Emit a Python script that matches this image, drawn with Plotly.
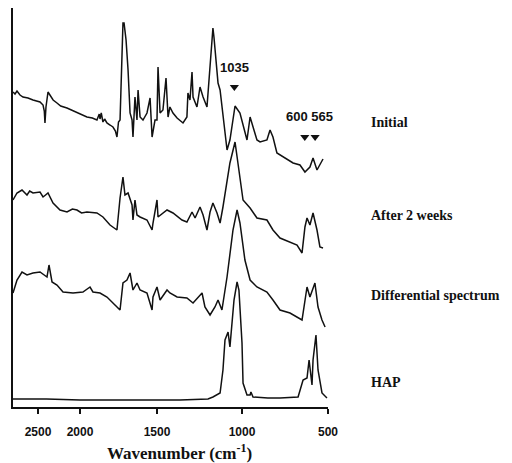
import numpy as np
import plotly.graph_objects as go

# ---------------- data (wavenumber in cm-1, absorbance in arbitrary units, stacked) -------------
tick_wn = [2500, 2000, 1500, 1000, 500]
tick_labels = ["2500", "2000", "1500", "1000", "500"]

initial_wn = [2800, 2776, 2752, 2716, 2680, 2620, 2560, 2520, 2476, 2440,
              2425, 2417, 2405, 2381, 2357, 2320, 2274, 2230, 2155, 2100,
              2036, 2000, 1975, 1955, 1920, 1890, 1875, 1870, 1862, 1851,
              1840, 1825, 1805, 1786, 1770, 1760, 1750, 1740, 1721, 1714,
              1701, 1688, 1675, 1662, 1656, 1643, 1630, 1623, 1610, 1591,
              1565, 1545, 1532, 1526, 1513, 1500, 1494, 1482, 1465, 1447,
              1435, 1424, 1406, 1382, 1365, 1347, 1324, 1318, 1306, 1294,
              1288, 1265, 1247, 1229, 1206, 1200, 1188, 1176, 1171, 1165,
              1147, 1141, 1129, 1112, 1088, 1071, 1041, 1012, 971, 953,
              936, 913, 895, 855, 837, 820, 797, 762, 730, 703,
              663, 634, 605, 587, 564, 535, 529]
initial_ab = [315, 313, 316, 312, 310, 309, 307, 306, 305, 302,
              296, 284, 300, 315, 312, 307, 304, 301, 299, 297,
              295, 293, 292, 290, 289, 287, 293, 288, 294, 285,
              288, 284, 282, 280, 276, 270, 285, 287, 384, 384,
              367, 337, 294, 287, 270, 310, 287, 317, 290, 287,
              294, 309, 270, 277, 287, 287, 340, 294, 297, 329,
              290, 300, 294, 289, 287, 284, 290, 314, 307, 335,
              310, 300, 320, 310, 300, 314, 337, 367, 379, 370,
              337, 324, 317, 294, 257, 267, 301, 294, 267, 290,
              280, 267, 265, 267, 277, 270, 254, 250, 247, 244,
              242, 235, 240, 249, 237, 245, 248]

weeks2_wn = [2800, 2752, 2692, 2632, 2600, 2560, 2476, 2440, 2410, 2381,
             2321, 2238, 2155, 2090, 2036, 1990, 1955, 1890, 1851, 1805,
             1760, 1740, 1721, 1708, 1688, 1662, 1656, 1643, 1630, 1610,
             1565, 1532, 1526, 1500, 1494, 1465, 1441, 1406, 1353, 1324,
             1294, 1276, 1247, 1229, 1206, 1188, 1171, 1147, 1129, 1112,
             1071, 1041, 1024, 994, 953, 913, 855, 820, 779, 721,
             680, 651, 634, 622, 605, 587, 564, 547, 529]
weeks2_ab = [207, 214, 217, 212, 216, 214, 215, 210, 212, 214,
             204, 197, 195, 198, 197, 194, 195, 194, 190, 182,
             177, 209, 230, 212, 214, 202, 187, 207, 192, 190,
             187, 177, 184, 207, 190, 194, 197, 194, 187, 185,
             195, 189, 200, 192, 177, 195, 204, 194, 184, 200,
             244, 265, 244, 207, 199, 189, 187, 177, 169, 165,
             162, 154, 180, 189, 182, 194, 177, 160, 159]

diff_wn = [2800, 2752, 2692, 2632, 2560, 2476, 2393, 2369, 2333, 2274,
           2202, 2083, 1981, 1935, 1916, 1870, 1825, 1792, 1760, 1740,
           1721, 1695, 1675, 1656, 1630, 1610, 1565, 1532, 1526, 1500,
           1482, 1441, 1424, 1382, 1324, 1288, 1235, 1218, 1188, 1159,
           1141, 1118, 1088, 1053, 1029, 1012, 983, 953, 913, 855,
           820, 779, 721, 680, 651, 622, 605, 576, 558, 535,
           517]
diff_ab = [114, 127, 135, 132, 134, 135, 130, 142, 125, 122,
           115, 114, 115, 120, 115, 114, 110, 105, 100, 97,
           124, 127, 134, 117, 124, 117, 114, 97, 110, 120,
           107, 117, 114, 110, 109, 104, 114, 100, 92, 100,
           107, 97, 130, 177, 197, 184, 147, 127, 120, 115,
           107, 97, 94, 90, 87, 120, 110, 124, 100, 87,
           80]

hap_wn = [2800, 2400, 2000, 1870, 1600, 1365, 1200, 1171, 1129, 1112,
          1100, 1082, 1071, 1065, 1047, 1029, 1018, 1000, 994, 971,
          953, 948, 936, 850, 779, 674, 645, 622, 610, 593,
          587, 570, 558, 535, 506]
hap_ab = [8, 8, 7, 7, 7, 7, 8, 10, 14, 37,
          67, 75, 60, 72, 107, 125, 117, 64, 24, 12,
          12, 15, 10, 9, 9, 10, 27, 29, 47, 22,
          47, 72, 37, 14, 9]

series_names = ["Initial", "After 2 weeks", "Differential spectrum", "HAP"]
series_label_y = [285, 192, 112, 25]

marker_wn = [1045, 635, 575]
marker_ab = [320, 270, 270]

# ------------- axis scale of the original (range above 2000 cm-1 compressed) ------------
scale_wn = [2800, 2500, 2000, 1500, 1000, 500]
scale_pos = [0, 25, 67, 144, 229, 315]


def pos(w):
    return np.interp(-np.asarray(w, dtype=float), -np.asarray(scale_wn, dtype=float), scale_pos)


fig = go.Figure()
line = dict(color="#111111", width=1.5)
for wn, ab, name in [(initial_wn, initial_ab, series_names[0]),
                     (weeks2_wn, weeks2_ab, series_names[1]),
                     (diff_wn, diff_ab, series_names[2]),
                     (hap_wn, hap_ab, series_names[3])]:
    fig.add_trace(go.Scatter(x=pos(wn), y=ab, mode="lines", line=line, name=name,
                             showlegend=False, hoverinfo="skip"))

fig.add_trace(go.Scatter(x=pos(marker_wn), y=marker_ab, mode="markers",
                         marker=dict(symbol="triangle-down", size=8, color="#111111"),
                         showlegend=False, hoverinfo="skip"))

sans = "Liberation Sans"
serif = "Liberation Serif"
mp = pos(marker_wn)
fig.add_annotation(x=mp[0], y=340, xref="x", yref="y", text="<b>1035</b>", showarrow=False,
                   yanchor="middle", font=dict(family=sans, size=13, color="#111111"))
fig.add_annotation(x=(mp[1] + mp[2]) / 2, y=291, xref="x", yref="y", text="<b>600 565</b>",
                   showarrow=False, yanchor="middle",
                   font=dict(family=sans, size=13, color="#111111"))

for name, yl in zip(series_names, series_label_y):
    fig.add_annotation(x=1.13, y=yl, xref="paper", yref="y", text="<b>" + name + "</b>",
                       xanchor="left", yanchor="middle", showarrow=False,
                       font=dict(family=serif, size=14, color="#111111"))

fig.add_annotation(x=0.53, y=-0.112, xref="paper", yref="paper",
                   text="<b>Wavenumber (cm<sup>-1</sup>)</b>", showarrow=False,
                   xanchor="center", yanchor="middle",
                   font=dict(family=serif, size=17, color="#111111"))

fig.update_layout(
    width=512, height=463,
    margin=dict(l=13, r=184, t=8, b=56),
    paper_bgcolor="white", plot_bgcolor="white",
    xaxis=dict(range=[0, 315], tickvals=pos(tick_wn), ticktext=tick_labels,
               showgrid=False, zeroline=False, showline=True, linecolor="#111111", linewidth=2,
               ticks="outside", ticklen=5, tickwidth=1.5, tickcolor="#111111",
               ticklabelstandoff=8,
               tickfont=dict(family=sans, size=12, color="#111111", weight="bold")),
    yaxis=dict(range=[0, 399], showgrid=False, zeroline=False, showline=True,
               linecolor="#111111", linewidth=2, showticklabels=False, ticks=""),
)

fig.write_html("out.html")
